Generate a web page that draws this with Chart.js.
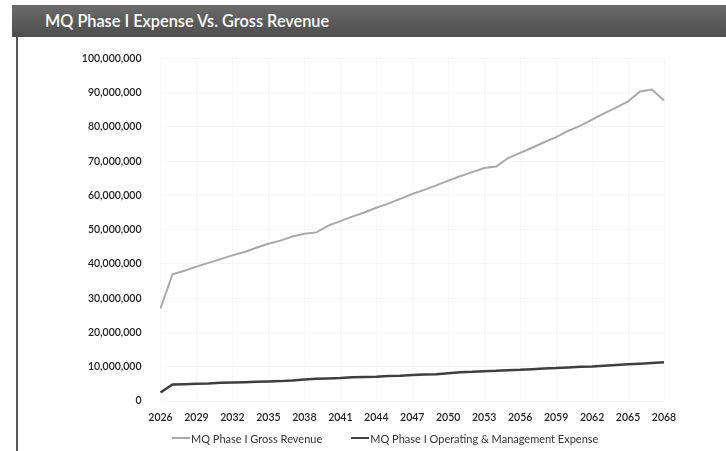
<!DOCTYPE html>
<html>
<head>
<meta charset="utf-8">
<script src="https://cdn.jsdelivr.net/npm/chart.js@4/dist/chart.umd.min.js"></script>
<style>
  html, body { margin: 0; padding: 0; background: #fff; }
  body { width: 726px; height: 451px; position: relative; overflow: hidden; font-family: Lato, sans-serif; }
  .title-bar {
    position: absolute; left: 12px; top: 5px; width: 714px; height: 32px;
    background: linear-gradient(#6b6b6b, #4d4d4d);
    color: #fff; font: 600 16.3px Lato, sans-serif; line-height: 32px;
    padding-left: 33px; box-sizing: border-box; z-index: 1;
  }
  .frame-left { position: absolute; left: 16px; top: 37px; width: 2px; height: 414px; background: #555; }
  .chart-box { position: absolute; left: 20px; top: 33px; width: 706px; height: 418px; }
  #legend {
    position: absolute; left: 172px; top: 431px; height: 14px;
    display: flex; align-items: center; font: 11px Lato, sans-serif; color: #333;
  }
  #legend .item { display: flex; align-items: center; margin-right: 29px; white-space: nowrap; }
  #legend .swatch { width: 18px; margin-right: 1px; }
</style>
</head>
<body>
<div class="title-bar">MQ Phase I Expense Vs. Gross Revenue</div>
<div class="frame-left"></div>
<div class="chart-box"><canvas id="chart"></canvas></div>
<div id="legend"></div>
<script>
const years = [
    2026, 2027, 2028, 2029, 2030, 2031, 2032, 2033, 2034, 2035, 2036,
    2037, 2038, 2039, 2040, 2041, 2042, 2043, 2044, 2045, 2046, 2047,
    2048, 2049, 2050, 2051, 2052, 2053, 2054, 2055, 2056, 2057, 2058,
    2059, 2060, 2061, 2062, 2063, 2064, 2065, 2066, 2067, 2068,
];

// values in millions of dollars
const grossRevenue = [
    27.0, 37.0, 38.0, 39.2, 40.3, 41.4, 42.5, 43.5, 44.7, 45.9, 46.8,
    48.0, 48.8, 49.2, 51.2, 52.5, 53.8, 55.0, 56.4, 57.6, 59.0, 60.4,
    61.6, 62.9, 64.3, 65.6, 66.8, 68.0, 68.4, 70.9, 72.4, 73.9, 75.5,
    77.0, 78.8, 80.3, 82.1, 83.9, 85.6, 87.4, 90.3, 90.9, 87.7,
];
const operatingExpense = [
    2.5, 4.8, 4.9, 5.0, 5.1, 5.3, 5.4, 5.5, 5.6, 5.7, 5.8,
    6.0, 6.3, 6.5, 6.6, 6.7, 6.9, 7.0, 7.1, 7.3, 7.4, 7.6,
    7.7, 7.8, 8.1, 8.4, 8.5, 8.7, 8.8, 9.0, 9.1, 9.3, 9.5,
    9.6, 9.8, 10.0, 10.1, 10.3, 10.5, 10.7, 10.9, 11.1, 11.3,
];

const seriesLabels = ["MQ Phase I Gross Revenue", "MQ Phase I Operating & Management Expense"];

const toDollars = (arr) => arr.map((v) => Math.round(v * 1e6));

const tickFont = { family: "Lato", size: 10.5, weight: "600" };
const faintGrid = { color: "rgba(0,0,0,0.035)", drawTicks: false };

// builds the legend below the plot from the chart's own datasets
const htmlLegend = {
    id: "htmlLegend",
    afterUpdate(chart) {
        const box = document.getElementById("legend");
        box.innerHTML = "";
        chart.data.datasets.forEach((ds) => {
            const item = document.createElement("div");
            item.className = "item";
            const swatch = document.createElement("span");
            swatch.className = "swatch";
            swatch.style.borderTop = `${ds.borderWidth}px solid ${ds.borderColor}`;
            const text = document.createElement("span");
            text.textContent = ds.label;
            item.append(swatch, text);
            box.append(item);
        });
    },
};

new Chart(document.getElementById("chart"), {
    type: "line",
    data: {
        labels: years,
        datasets: [
            {
                label: seriesLabels[0],
                data: toDollars(grossRevenue),
                borderColor: "#a9a9a9",
                borderWidth: 2,
                pointRadius: 0,
                tension: 0,
            },
            {
                label: seriesLabels[1],
                data: toDollars(operatingExpense),
                borderColor: "#3f3f3f",
                borderWidth: 2.5,
                pointRadius: 0,
                tension: 0,
            },
        ],
    },
    options: {
        responsive: true,
        maintainAspectRatio: false,
        animation: false,
        layout: { padding: { top: 0, right: 62, left: 0, bottom: 20 } },
        plugins: {
            tooltip: { enabled: false },
            legend: { display: false },
        },
        scales: {
            x: {
                grid: faintGrid,
                border: { display: false },
                ticks: {
                    color: "#222",
                    font: tickFont,
                    autoSkip: false,
                    maxRotation: 0,
                    padding: 10,
                    callback: (value, index) => (index % 3 === 0 ? years[index] : null),
                },
                afterFit: (scale) => { scale.height = 30; },
            },
            y: {
                min: 0,
                max: 100000000,
                grid: faintGrid,
                border: { display: false },
                ticks: {
                    stepSize: 10000000,
                    color: "#222",
                    font: tickFont,
                    padding: 19,
                    callback: (v) => v.toLocaleString("en-US"),
                },
                afterFit: (scale) => { scale.width = 140.5; },
            },
        },
    },
    plugins: [htmlLegend],
});
</script>
</body>
</html>
